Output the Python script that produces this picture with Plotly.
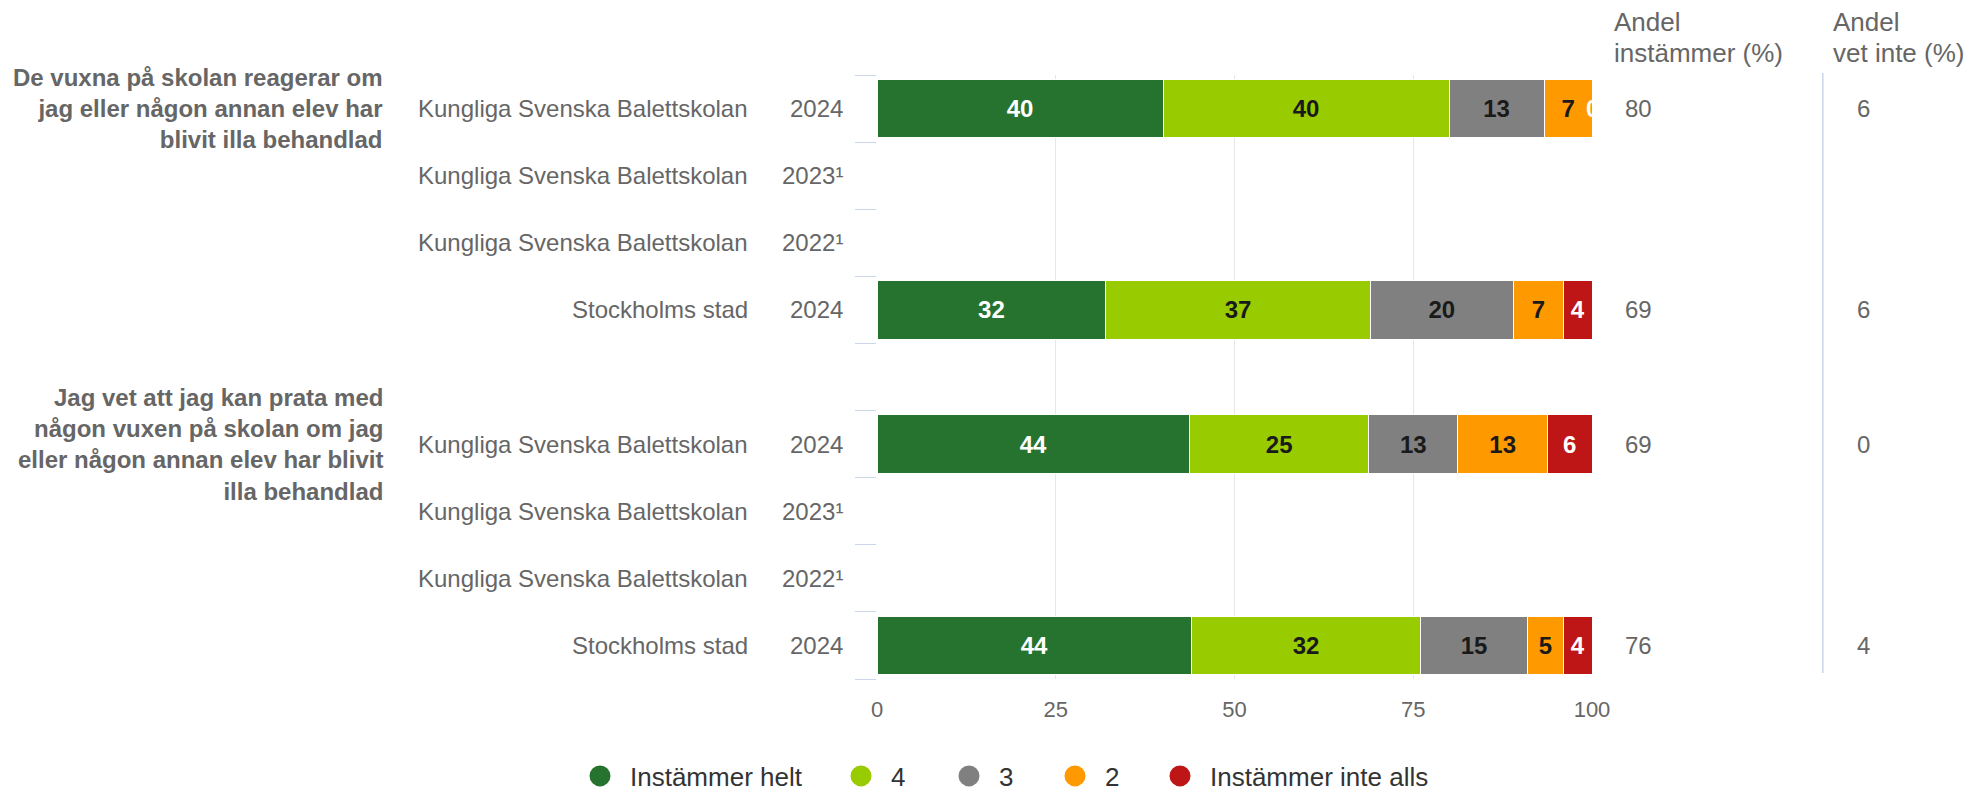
import plotly.graph_objects as go

# ---------------- data ----------------
groups = [
    "De vuxna på skolan reagerar om<br>jag eller någon annan elev har<br>blivit illa behandlad",
    "Jag vet att jag kan prata med<br>någon vuxen på skolan om jag<br>eller någon annan elev har blivit<br>illa behandlad",
]
row_group = [0, 0, 0, 0, 1, 1, 1, 1]
units = ["Kungliga Svenska Balettskolan", "Kungliga Svenska Balettskolan",
         "Kungliga Svenska Balettskolan", "Stockholms stad",
         "Kungliga Svenska Balettskolan", "Kungliga Svenska Balettskolan",
         "Kungliga Svenska Balettskolan", "Stockholms stad"]
years = ["2024", "2023¹", "2022¹", "2024", "2024", "2023¹", "2022¹", "2024"]

series_names = ["Instämmer helt", "4", "3", "2", "Instämmer inte alls"]
instammer_helt = [40.0, None, None, 32, 43.75, None, None, 44]
svar_4 = [40.0, None, None, 37, 25.0, None, None, 32]
svar_3 = [13.3, None, None, 20, 12.5, None, None, 15]
svar_2 = [6.7, None, None, 7, 12.5, None, None, 5]
instammer_inte_alls = [0, None, None, 4, 6.25, None, None, 4]

andel_instammer = [80, None, None, 69, 69, None, None, 76]
andel_vet_inte = [6, None, None, 6, 0, None, None, 4]

x_ticks = [0, 25, 50, 75, 100]
header_1 = ["Andel", "instämmer (%)"]
header_2 = ["Andel", "vet inte (%)"]

# ---------------- style ----------------
colors = ["#267330", "#99cc00", "#808080", "#ff9900", "#be1616"]
text_colors = ["#ffffff", "#1a1a1a", "#1a1a1a", "#1a1a1a", "#ffffff"]
legend_circle_px = [600, 861, 969, 1075, 1180]   # legend symbol centres (px)
FONT = "Liberation Sans, Arial, Helvetica, sans-serif"
LABEL = "#666666"

W, H = 1973, 792
L, R, T, B = 876.5, 381, 75, 113
PW = W - L - R
PH = H - T - B


def px_x(px):
    return (px - L) / PW


def px_y(py):
    return (H - B - py) / PH


series = [instammer_helt, svar_4, svar_3, svar_2, instammer_inte_alls]
pos = [i + g for i, g in enumerate(row_group)]
n_slots = pos[-1] + 1

fig = go.Figure()
for name, vals, col, tcol in zip(series_names, series, colors, text_colors):
    fig.add_trace(go.Bar(
        y=pos, x=vals, orientation="h", name=name,
        marker=dict(color=col, line=dict(color="white", width=1)),
        width=0.87,
        texttemplate="%{x:.0f}",
        textposition=["inside" if (v is not None and v > 0) else "none" for v in vals],
        insidetextanchor="middle",
        textfont=dict(family=FONT, size=24, color=tcol, weight=700),
        showlegend=False, hoverinfo="skip",
    ))

legends = {}
for i, (name, col, cx) in enumerate(zip(series_names, colors, legend_circle_px)):
    key = "legend" if i == 0 else f"legend{i + 1}"
    fig.add_trace(go.Scatter(
        x=[None], y=[None], mode="markers", name=name, legend=key,
        marker=dict(symbol="circle", size=16, color=col, line=dict(color=col, width=5)),
        showlegend=True, hoverinfo="skip",
    ))
    legends[key] = dict(orientation="h", xref="container", yref="container",
                        x=(cx - 30) / W, xanchor="left", y=(H - 776) / H, yanchor="middle",
                        itemwidth=50, bgcolor="rgba(0,0,0,0)", borderwidth=0,
                        font=dict(family=FONT, size=26, color="#333333"),
                        itemclick=False, itemdoubleclick=False)

annotations = []
# zero-valued segments: label at the end of the stacked bar
for r, v in enumerate(instammer_inte_alls):
    if v == 0:
        total = sum(s[r] for s in series)
        annotations.append(dict(x=total, y=pos[r], xref="x", yref="y", text="0",
                                showarrow=False, xanchor="center", yanchor="middle",
                                font=dict(family=FONT, size=24, color="#ffffff", weight=700)))

# row labels
for r in range(len(units)):
    annotations.append(dict(x=px_x(749), y=pos[r], xref="paper", yref="y", text=units[r],
                            showarrow=False, xanchor="right", yanchor="middle",
                            font=dict(family=FONT, size=24, color=LABEL)))
    annotations.append(dict(x=px_x(844), y=pos[r], xref="paper", yref="y", text=years[r],
                            showarrow=False, xanchor="right", yanchor="middle",
                            font=dict(family=FONT, size=24, color=LABEL)))
    if andel_instammer[r] is not None:
        annotations.append(dict(x=px_x(1623), y=pos[r], xref="paper", yref="y",
                                text=str(andel_instammer[r]), showarrow=False,
                                xanchor="left", yanchor="middle",
                                font=dict(family=FONT, size=24, color=LABEL)))
    if andel_vet_inte[r] is not None:
        annotations.append(dict(x=px_x(1855), y=pos[r], xref="paper", yref="y",
                                text=str(andel_vet_inte[r]), showarrow=False,
                                xanchor="left", yanchor="middle",
                                font=dict(family=FONT, size=24, color=LABEL)))

# group titles
for g, title in enumerate(groups):
    first = pos[row_group.index(g)]
    annotations.append(dict(x=px_x(384), y=first, xref="paper", yref="y", text="<b>" + title + "</b>",
                            showarrow=False, xanchor="right", yanchor="middle", align="right",
                            font=dict(family=FONT, size=24, color=LABEL)))

# column headers
for hx, lines in [(1612, header_1), (1831, header_2)]:
    for k, line in enumerate(lines):
        annotations.append(dict(x=px_x(hx), y=px_y(22 + 31 * k), xref="paper", yref="paper",
                                text=line, showarrow=False, xanchor="left", yanchor="middle",
                                font=dict(family=FONT, size=26, color=LABEL)))

shapes = [dict(type="line", xref="paper", yref="paper",
               x0=px_x(1823), x1=px_x(1823), y0=px_y(673), y1=px_y(73),
               line=dict(color="#ccd6eb", width=1.5))]

fig.update_layout(
    width=W, height=H,
    margin=dict(l=L, r=R, t=T, b=B, autoexpand=False),
    barmode="stack",
    paper_bgcolor="white", plot_bgcolor="white",
    font=dict(family=FONT, color=LABEL),
    annotations=annotations, shapes=shapes,
    xaxis=dict(range=[0, 100], tickvals=x_ticks, showgrid=True, gridcolor="#e6e6e6",
               gridwidth=1, zeroline=False, showline=False, ticks="",
               tickfont=dict(family=FONT, size=22, color=LABEL), ticklabelstandoff=15,
               fixedrange=True),
    yaxis=dict(range=[n_slots - 0.5, -0.5], tickvals=[k - 0.5 for k in range(n_slots + 1)],
               showticklabels=False, ticks="outside", ticklen=21, tickcolor="#ccd6eb",
               tickwidth=1, showgrid=False, zeroline=False, showline=False, fixedrange=True),
    **legends,
)

fig.write_html("out.html", config={"displayModeBar": False},
               post_script="document.body.style.margin='0px';document.body.style.overflow='hidden';")
